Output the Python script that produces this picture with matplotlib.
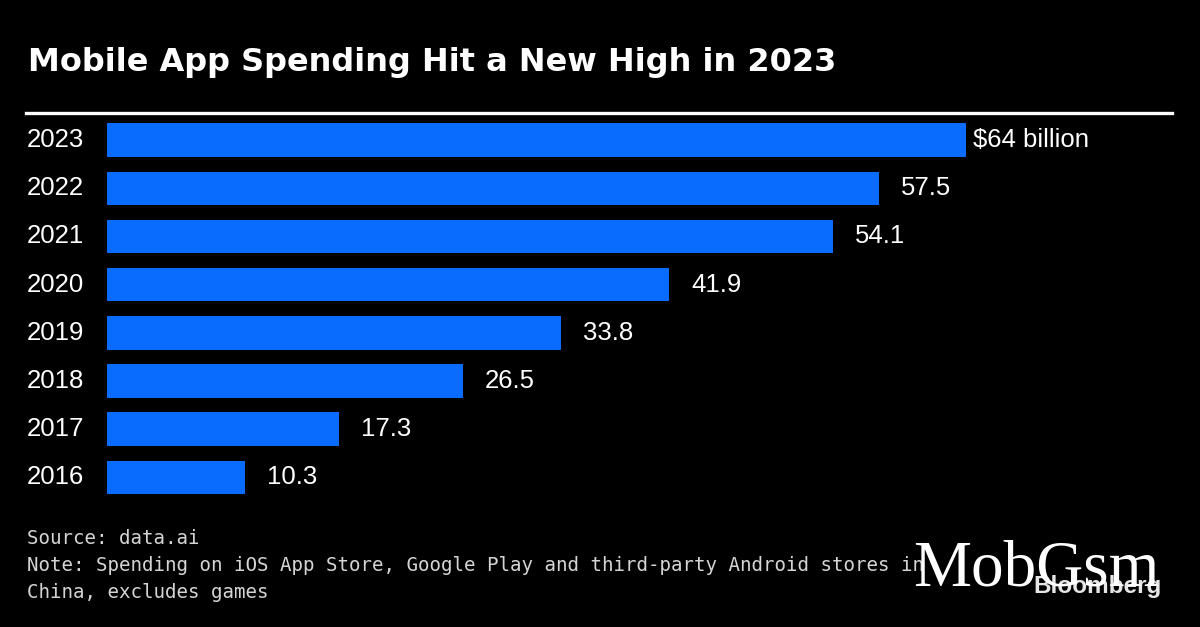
import matplotlib
matplotlib.use("Agg")
import matplotlib.pyplot as plt
from matplotlib.lines import Line2D
from matplotlib.transforms import blended_transform_factory

years = ["2023", "2022", "2021", "2020", "2019", "2018", "2017", "2016"]
spending = [64, 57.5, 54.1, 41.9, 33.8, 26.5, 17.3, 10.3]
value_labels = ["$64 billion", "57.5", "54.1", "41.9", "33.8", "26.5", "17.3", "10.3"]

title = "Mobile App Spending Hit a New High in 2023"
source = "Source: data.ai"
note1 = "Note: Spending on iOS App Store, Google Play and third-party Android stores in"
note2 = "China, excludes games"

BG = "black"
BLUE = "#0a6cff"
W, H = 1200, 627

fig = plt.figure(figsize=(12, 6.27), dpi=100, facecolor=BG)

# axes placed in pixel terms: x=0 at 107px, 13.42px per unit
left_px, right_px = 107, 107 + 80 * 13.42
top_px, bot_px = 116.0, 501.5
ax = fig.add_axes([left_px / W, 1 - bot_px / H, (right_px - left_px) / W, (bot_px - top_px) / H])
ax.set_facecolor(BG)

ypos = list(range(len(years)))
ax.barh(ypos, spending, height=0.695, color=BLUE, zorder=2)
ax.set_xlim(0, 80)
ax.set_ylim(len(years) - 0.5, -0.5)
ax.axis("off")

# value labels to the right of the bars
for i, (v, lab) in enumerate(zip(spending, value_labels)):
    off = 7 if i == 0 else 22
    ax.annotate(lab, xy=(v, i), xytext=(off * 0.72, 0), textcoords="offset points",
                va="center", ha="left", color="white", fontsize=18.5,
                family="Liberation Sans")

# year labels on the left edge
tr = blended_transform_factory(fig.transFigure, ax.transData)
for i, y in enumerate(years):
    ax.text(27 / W, i, y, transform=tr, va="center", ha="left", color="white",
            fontsize=18.5, family="Liberation Sans")

# title and rule
fig.text(28 / W, 1 - 71 / H, title, color="white", fontsize=23, fontweight="bold",
         family="DejaVu Sans", va="baseline", ha="left")
fig.add_artist(Line2D([26 / W, 1172 / W], [1 - 113 / H, 1 - 113 / H],
                      color="white", lw=2.4, transform=fig.transFigure))

# footer
for txt, base in [(source, 544), (note1, 571), (note2, 598)]:
    fig.text(27 / W, 1 - base / H, txt, color="#d4d4d4", fontsize=13.8,
             family="DejaVu Sans Mono", va="baseline", ha="left")

# logo + watermark
fig.text(1033 / W, 1 - 593 / H, "Bloomberg", color="#e6e6e6", fontsize=17.5,
         fontweight="bold", family="Liberation Sans", va="baseline", ha="left", zorder=3)
fig.text(913 / W, 1 - 585 / H, "MobGsm", color="white", fontsize=47,
         family="Liberation Serif", va="baseline", ha="left", zorder=4)

fig.savefig("out.png", dpi=100, facecolor=BG)
